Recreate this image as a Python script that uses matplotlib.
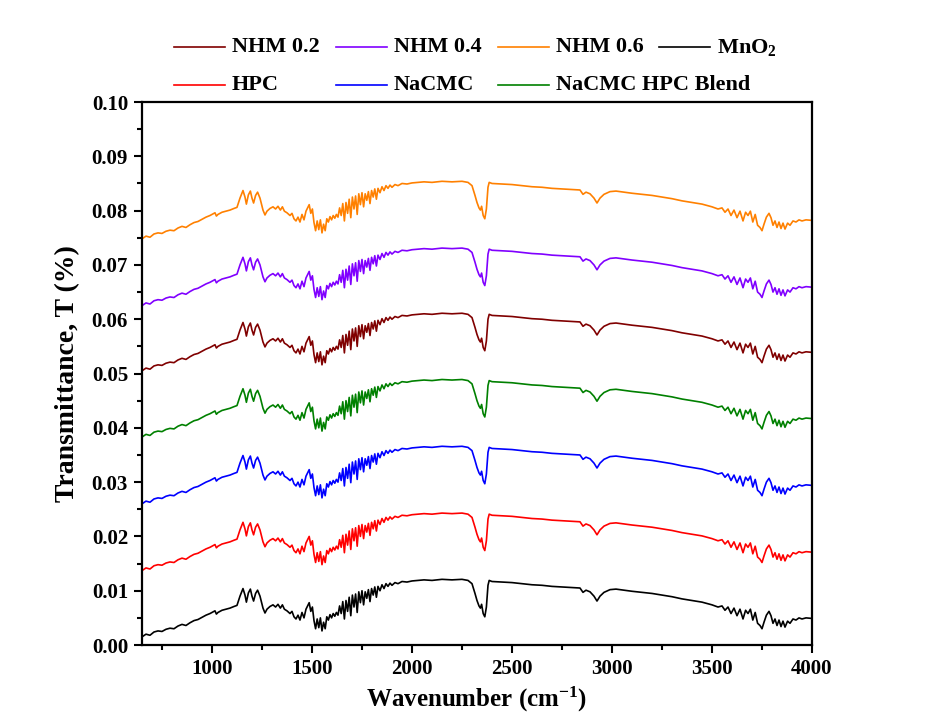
import numpy as np
import matplotlib
matplotlib.use("Agg")
import matplotlib.pyplot as plt
from matplotlib.lines import Line2D

plt.rcParams['font.family'] = ['Liberation Serif', 'DejaVu Serif']
plt.rcParams['font.weight'] = 'bold'
plt.rcParams['mathtext.default'] = 'regular'

# MnO2 spectrum (wavenumber, transmittance); the other samples sit on the same profile, shifted up
wavenumber = [
    650, 670, 690, 710, 730, 750, 770, 790, 810, 830, 850, 870, 890, 910, 930, 950, 970, 990,
    1005, 1015, 1022, 1030, 1050, 1070, 1090, 1110, 1125, 1140, 1155, 1165, 1172, 1182, 1192,
    1200, 1208, 1218, 1228, 1240, 1255, 1265, 1275, 1290, 1305, 1318, 1330, 1342, 1352, 1362,
    1375, 1390, 1400, 1410, 1420, 1430, 1440, 1450, 1460, 1470, 1478, 1486, 1494, 1502, 1510,
    1518, 1526, 1534, 1542, 1550, 1558, 1566, 1574, 1582, 1590, 1598, 1606, 1614, 1622, 1630,
    1638, 1646, 1654, 1662, 1670, 1678, 1686, 1694, 1702, 1710, 1718, 1726, 1734, 1742, 1750,
    1758, 1766, 1774, 1782, 1790, 1798, 1806, 1814, 1822, 1830, 1840, 1850, 1860, 1870, 1880,
    1890, 1900, 1915, 1930, 1950, 1975, 2000, 2030, 2060, 2100, 2150, 2200, 2250, 2280, 2300,
    2315, 2325, 2335, 2342, 2348, 2356, 2364, 2372, 2380, 2386, 2400, 2450, 2500, 2550, 2600,
    2650, 2700, 2750, 2800, 2840, 2855, 2870, 2890, 2910, 2925, 2940, 2960, 2990, 3020, 3060,
    3100, 3150, 3200, 3250, 3300, 3350, 3400, 3450, 3500, 3530, 3550, 3565, 3580, 3595, 3610,
    3625, 3640, 3655, 3668, 3680, 3692, 3704, 3716, 3728, 3740, 3750, 3760, 3772, 3785, 3795,
    3805, 3815, 3825, 3835, 3845, 3855, 3865, 3878, 3890, 3905, 3920, 3935, 3950, 3970, 4000,
]
mno2 = [
    0.0015, 0.0020, 0.0018, 0.0024, 0.0026, 0.0025, 0.0029, 0.0031, 0.0030, 0.0035, 0.0038,
    0.0036, 0.0041, 0.0045, 0.0047, 0.0051, 0.0055, 0.0058, 0.0061, 0.0063, 0.0057, 0.0060,
    0.0064, 0.0066, 0.0068, 0.0071, 0.0073, 0.0090, 0.0104, 0.0092, 0.0079, 0.0096, 0.0103,
    0.0090, 0.0081, 0.0095, 0.0101, 0.0090, 0.0068, 0.0059, 0.0066, 0.0071, 0.0074, 0.0070,
    0.0075, 0.0068, 0.0074, 0.0066, 0.0063, 0.0058, 0.0062, 0.0052, 0.0048, 0.0055, 0.0046,
    0.0060, 0.0050, 0.0066, 0.0072, 0.0078, 0.0062, 0.0070, 0.0045, 0.0030, 0.0048, 0.0032,
    0.0050, 0.0026, 0.0042, 0.0030, 0.0052, 0.0046, 0.0056, 0.0050, 0.0058, 0.0053, 0.0060,
    0.0055, 0.0072, 0.0058, 0.0080, 0.0048, 0.0082, 0.0062, 0.0088, 0.0054, 0.0092, 0.0070,
    0.0094, 0.0060, 0.0098, 0.0078, 0.0100, 0.0074, 0.0098, 0.0086, 0.0102, 0.0080, 0.0104,
    0.0092, 0.0107, 0.0088, 0.0108, 0.0100, 0.0111, 0.0104, 0.0113, 0.0108, 0.0114, 0.0110,
    0.0115, 0.0113, 0.0117, 0.0116, 0.0118, 0.0119, 0.0120, 0.0119, 0.0121, 0.0120, 0.0121,
    0.0119, 0.0113, 0.0095, 0.0082, 0.0072, 0.0068, 0.0075, 0.0058, 0.0052, 0.0070, 0.0110,
    0.0119, 0.0117, 0.0116, 0.0115, 0.0113, 0.0111, 0.0110, 0.0108, 0.0107, 0.0106, 0.0105,
    0.0097, 0.0101, 0.0098, 0.0090, 0.0081, 0.0090, 0.0097, 0.0102, 0.0103, 0.0101, 0.0099,
    0.0097, 0.0095, 0.0092, 0.0089, 0.0085, 0.0082, 0.0079, 0.0074, 0.0070, 0.0072, 0.0064,
    0.0070, 0.0058, 0.0068, 0.0054, 0.0066, 0.0048, 0.0064, 0.0058, 0.0066, 0.0046, 0.0060,
    0.0040, 0.0036, 0.0030, 0.0042, 0.0055, 0.0062, 0.0054, 0.0040, 0.0048, 0.0036, 0.0046,
    0.0034, 0.0044, 0.0033, 0.0044, 0.0040, 0.0048, 0.0046, 0.0050, 0.0048, 0.0050, 0.0049,
]

labels = ['MnO$_2$', 'HPC', 'NaCMC', 'NaCMC HPC Blend', 'NHM 0.2', 'NHM 0.4', 'NHM 0.6']
colors = ['black', '#FF0000', '#0000FF', '#008000', '#800000', '#8000FF', '#FF8000']
offsets = [0.0, 0.0122, 0.0245, 0.0368, 0.0490, 0.0610, 0.0733]

wn = np.array(wavenumber)
base = np.array(mno2)

fig = plt.figure(figsize=(9.28, 7.22), dpi=100)
ax = fig.add_axes([0.153, 0.1066, 0.722, 0.7521])

for lab, col, off in zip(labels, colors, offsets):
    ax.plot(wn, base + off, color=col, linewidth=1.2)

ax.set_xlim(650, 4000)
ax.set_ylim(0, 0.10)
ax.set_xticks([1000, 1500, 2000, 2500, 3000, 3500, 4000])
ax.set_xticks(np.arange(750, 4000, 500), minor=True)
ax.set_yticks(np.arange(0, 0.1001, 0.01))
ax.set_yticks(np.arange(0.005, 0.1, 0.01), minor=True)
ax.yaxis.set_major_formatter(plt.FormatStrFormatter('%.2f'))

ax.tick_params(which='major', direction='out', length=6, width=1.5, labelsize=15, pad=4)
ax.tick_params(which='minor', direction='out', length=3.5, width=1.5)
for s in ax.spines.values():
    s.set_linewidth(1.6)

ax.set_xlabel('Wavenumber (cm$^{-1}$)', fontsize=18, fontweight='bold', labelpad=4)
ax.set_ylabel('Transmittance, T (%)', fontsize=20, fontweight='bold', labelpad=8)

# legend drawn by hand: two rows on a fixed column grid above the axes
legend_rows = [
    [('NHM 0.2', '#800000'), ('NHM 0.4', '#8000FF'), ('NHM 0.6', '#FF8000'), ('MnO$_2$', 'black')],
    [('HPC', '#FF0000'), ('NaCMC', '#0000FF'), ('NaCMC HPC Blend', '#008000')],
]
W, H = 928.0, 722.0
col_px = [174, 336, 498, 659]
row_px = [47, 85]
for r, row in enumerate(legend_rows):
    y = 1 - row_px[r] / H
    for c, (txt, col) in enumerate(row):
        x0 = col_px[c] / W
        fig.add_artist(Line2D([x0, x0 + 51 / W], [y, y], color=col, linewidth=1.2,
                              transform=fig.transFigure))
        fig.text(x0 + 58 / W, y, txt, fontsize=16, fontweight='bold', va='center', ha='left')

fig.savefig('out.png', dpi=100)
